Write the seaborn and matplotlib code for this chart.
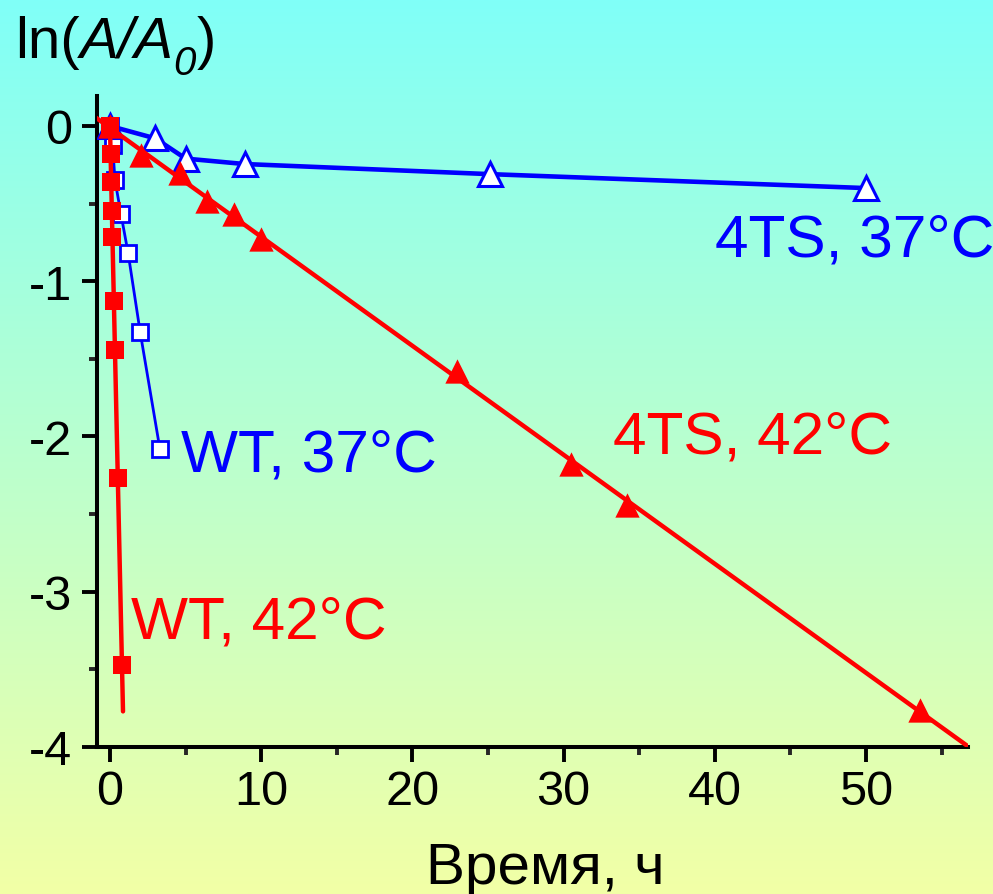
import numpy as np
import pandas as pd
import matplotlib
matplotlib.use("Agg")
import matplotlib.pyplot as plt
import seaborn as sns

# ---- data ----
wt37_t = [0.0, 0.17, 0.33, 0.73, 1.2, 2.0, 3.3]
wt37_y = [0.0, -0.12, -0.35, -0.57, -0.82, -1.33, -2.08]

ts37_t = [0.0, 3.0, 5.0, 8.9, 25.1, 50.0]
ts37_y = [0.0, -0.08, -0.21, -0.245, -0.31, -0.40]

wt42_t = [0.0, 0.04, 0.08, 0.12, 0.16, 0.25, 0.33, 0.52, 0.79]
wt42_y = [0.0, -0.18, -0.36, -0.545, -0.715, -1.125, -1.44, -2.27, -3.47]

ts42_t = [0.0, 2.05, 4.63, 6.4, 8.2, 10.0, 22.95, 30.5, 34.2, 53.6]
ts42_y = [0.0, -0.19, -0.30, -0.48, -0.57, -0.73, -1.58, -2.18, -2.44, -3.76]

labels = ["WT, 37°C", "4TS, 37°C", "WT, 42°C", "4TS, 42°C"]
xticks = [0, 10, 20, 30, 40, 50]
yticks = [0, -1, -2, -3, -4]
xlabel = "Время, ч"

sns.set_theme(style="white")
plt.rcParams["font.family"] = ["Liberation Sans", "DejaVu Sans"]

W, H = 993, 895
fig = plt.figure(figsize=(W / 100, H / 100), dpi=100)

# gradient background
bg = fig.add_axes([0, 0, 1, 1], zorder=-10)
top = np.array([0x80, 0xFF, 0xF8]) / 255
bot = np.array([0xF2, 0xFF, 0xA6]) / 255
s = np.linspace(0, 1, 256)[:, None]
grad = (top[None, :] * (1 - s) + bot[None, :] * s)[:, None, :]
bg.imshow(grad, aspect="auto", extent=[0, 1, 0, 1], interpolation="bilinear")
bg.set_axis_off()

L, R, B, T = 97, 968, 748, 97
ax = fig.add_axes([L / W, 1 - B / H, (R - L) / W, (B - T) / H])
ax.patch.set_alpha(0)

blue = "#0000FF"
red = "#FF0000"

# WT 37 (open squares, thin line)
sns.lineplot(x=wt37_t, y=wt37_y, ax=ax, sort=False, color=blue, lw=2.0,
             marker="s", markersize=11, markerfacecolor="white",
             markeredgecolor=blue, markeredgewidth=2.0, zorder=3)
# 4TS 37 (open triangles)
sns.lineplot(x=ts37_t, y=ts37_y, ax=ax, sort=False, color=blue, lw=3.3,
             marker="^", markersize=17.5, markerfacecolor="white",
             markeredgecolor=blue, markeredgewidth=2.2, zorder=4)

# 4TS 42 regression line + filled triangles
m2, b2 = np.polyfit(ts42_t, ts42_y, 1)
xx2 = np.array([-1.0, 58.0])
sns.lineplot(x=xx2, y=m2 * xx2 + b2, ax=ax, color=red, lw=3.2, zorder=5,
             solid_capstyle="round")
sns.scatterplot(x=ts42_t, y=ts42_y, ax=ax, color=red, marker="^", s=17.5 ** 2,
                linewidth=0, zorder=6)

# WT 42 regression line + filled squares
m1, b1 = np.polyfit(wt42_t, wt42_y, 1)
xx1 = np.array([0.0, 0.86])
sns.lineplot(x=xx1, y=m1 * xx1 + b1, ax=ax, color=red, lw=3.2, zorder=5,
             solid_capstyle="round")
sns.scatterplot(x=wt42_t, y=wt42_y, ax=ax, color=red, marker="s", s=13.5 ** 2,
                linewidth=0, zorder=7)

ax.set_xlim((L - 110) / 15.12, (R - 110) / 15.12)
ax.set_ylim(-4.0, (127 - 97) / 155.3)

ax.set_xticks(xticks)
ax.set_yticks(yticks)
ax.set_xticks(np.arange(5, 60, 10), minor=True)
ax.set_yticks(np.arange(-3.5, 0.5, 1.0), minor=True)
ax.set_xticklabels([str(v) for v in xticks])
ax.set_yticklabels([str(v) for v in yticks])
ax.tick_params(which="major", direction="out", length=11, width=2.8,
               labelsize=35, colors="black", bottom=True, left=True)
ax.tick_params(axis="x", which="major", pad=5)
ax.tick_params(axis="y", which="major", pad=7)
ax.tick_params(which="minor", direction="out", length=5.5, width=2.8,
               bottom=True, left=True)
for sp in ["top", "right"]:
    ax.spines[sp].set_visible(False)
for sp in ["left", "bottom"]:
    ax.spines[sp].set_visible(True)
    ax.spines[sp].set_linewidth(2.9)
    ax.spines[sp].set_color("black")
    ax.spines[sp].set_capstyle("projecting")
ax.set_xlabel("")
ax.set_ylabel("")

# y-axis title built from pieces: ln( A/A _0 )
renderer = fig.canvas.get_renderer()
pieces = [("ln(", "normal", 42, 0), ("A/A", "italic", 42, 0),
          ("0", "italic", 29, -17), (")", "normal", 42, 0)]
xpos = 15.0
base = H - 58
for txt, style, size, dy in pieces:
    t = fig.text(xpos / W, (base + dy) / H, txt, fontsize=size, style=style,
                 color="black", va="baseline", ha="left")
    bb = t.get_window_extent(renderer)
    xpos = bb.x1 + (1 if txt == "0" else 0)

fig.text(545 / W, 1 - 884 / H, xlabel, fontsize=42, color="black",
         va="baseline", ha="center")

# series labels
fs = 43.5
fig.text(715 / W, 1 - 257 / H, labels[1], fontsize=fs, color=blue, va="baseline")
fig.text(181 / W, 1 - 472 / H, labels[0], fontsize=fs, color=blue, va="baseline")
fig.text(613 / W, 1 - 454 / H, labels[3], fontsize=fs, color=red, va="baseline")
fig.text(131 / W, 1 - 639 / H, labels[2], fontsize=fs, color=red, va="baseline")

fig.savefig("out.png", dpi=100)
